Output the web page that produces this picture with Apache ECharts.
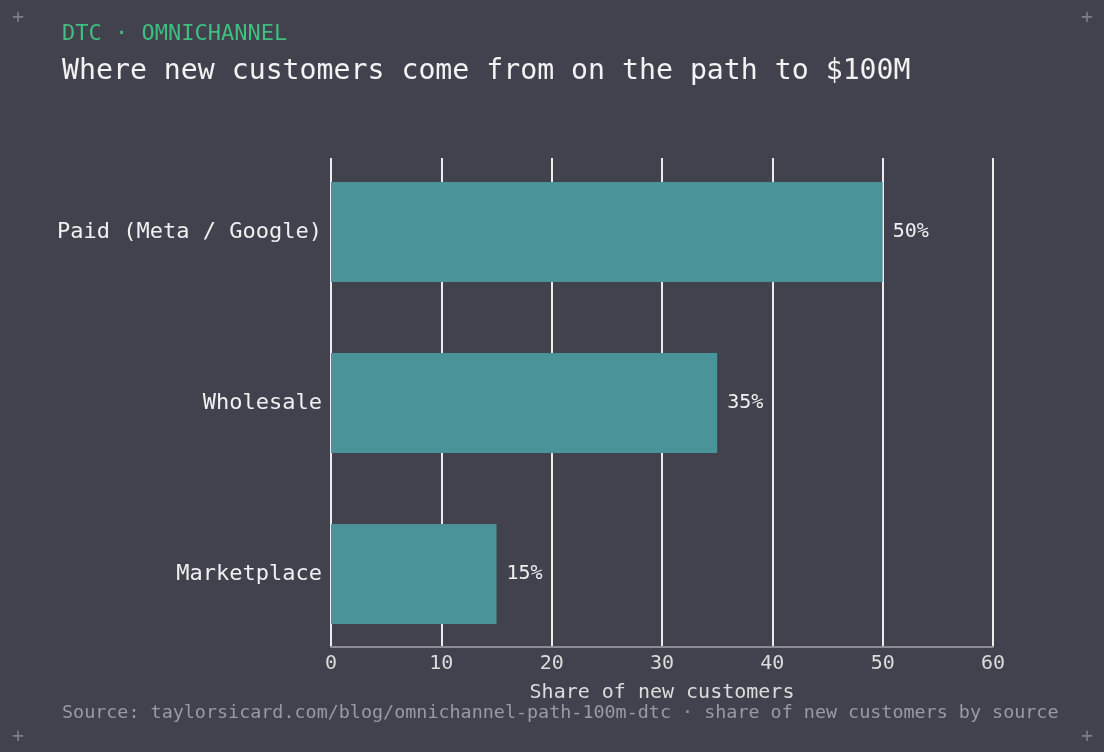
<!DOCTYPE html>
<html>
<head>
<meta charset="utf-8">
<title>New customer sources</title>
<script src="https://cdn.jsdelivr.net/npm/echarts@6/dist/echarts.min.js"></script>
<style>
  * { margin: 0; padding: 0; }
  html, body { width: 100%; height: 100%; background: #42414e; }
  #main { width: 1104px; height: 752px; }
</style>
</head>
<body>
<div id="main"></div>
<script>
  // data
  var categories = ['Marketplace', 'Wholesale', 'Paid (Meta / Google)'];
  var shares = [15, 35, 50];
  var xTicks = [0, 10, 20, 30, 40, 50, 60];

  var mono = '"DejaVu Sans Mono", "Liberation Mono", monospace';
  var chart = echarts.init(document.getElementById('main'));

  chart.setOption({
    backgroundColor: '#42414e',
    animation: false,
    graphic: [
      { type: 'text', left: 62, top: 23, style: { text: 'DTC · OMNICHANNEL', fill: '#3fbf7f', font: '22px ' + mono } },
      { type: 'text', left: 62, top: 58, style: { text: 'Where new customers come from on the path to $100M', fill: '#f2f2f2', font: '28.2px ' + mono } },
      { type: 'text', left: 62, top: 704, style: { text: 'Source: taylorsicard.com/blog/omnichannel-path-100m-dtc · share of new customers by source', fill: '#9b9aa3', font: '18.4px ' + mono } },
      { type: 'text', left: 12, top: 8, style: { text: '+', fill: '#7d7c87', font: '20px ' + mono } },
      { type: 'text', left: 1081, top: 8, style: { text: '+', fill: '#7d7c87', font: '20px ' + mono } },
      { type: 'text', left: 12, top: 727, style: { text: '+', fill: '#7d7c87', font: '20px ' + mono } },
      { type: 'text', left: 1081, top: 727, style: { text: '+', fill: '#7d7c87', font: '20px ' + mono } }
    ],
    grid: [
      { left: 331, right: 111, top: 158, bottom: 105 },
      { left: 331, right: 111, top: 146.5, bottom: 92.5 }
    ],
    xAxis: [
      {
        gridIndex: 0, type: 'value', min: 0, max: 60, interval: 10,
        axisLine: { show: true, lineStyle: { color: '#8d8c96', width: 2 } },
        axisTick: { show: false },
        splitLine: { show: true, lineStyle: { color: '#ececec', width: 2 } },
        axisLabel: { color: '#dcdcdc', fontFamily: mono, fontSize: 20, margin: 7,
          formatter: function (v) { return xTicks.indexOf(v) >= 0 ? String(v) : ''; } },
        name: 'Share of new customers', nameLocation: 'middle', nameGap: 36,
        nameTextStyle: { color: '#dcdcdc', fontFamily: mono, fontSize: 20 }
      },
      {
        gridIndex: 1, type: 'value', min: 0, max: 60, interval: 10, show: false
      }
    ],
    yAxis: [
      { gridIndex: 0, type: 'value', show: false },
      {
        gridIndex: 1, type: 'category', data: categories,
        axisLine: { show: false }, axisTick: { show: false },
        axisLabel: { color: '#f0f0f0', fontFamily: mono, fontSize: 22, margin: 9 }
      }
    ],
    series: [{
      type: 'bar', xAxisIndex: 1, yAxisIndex: 1,
      data: shares, barWidth: 100,
      itemStyle: { color: '#4a9399' },
      label: { show: true, position: 'right', distance: 10, color: '#f0f0f0',
        fontFamily: mono, fontSize: 20, formatter: '{c}%' }
    }]
  });
</script>
</body>
</html>
